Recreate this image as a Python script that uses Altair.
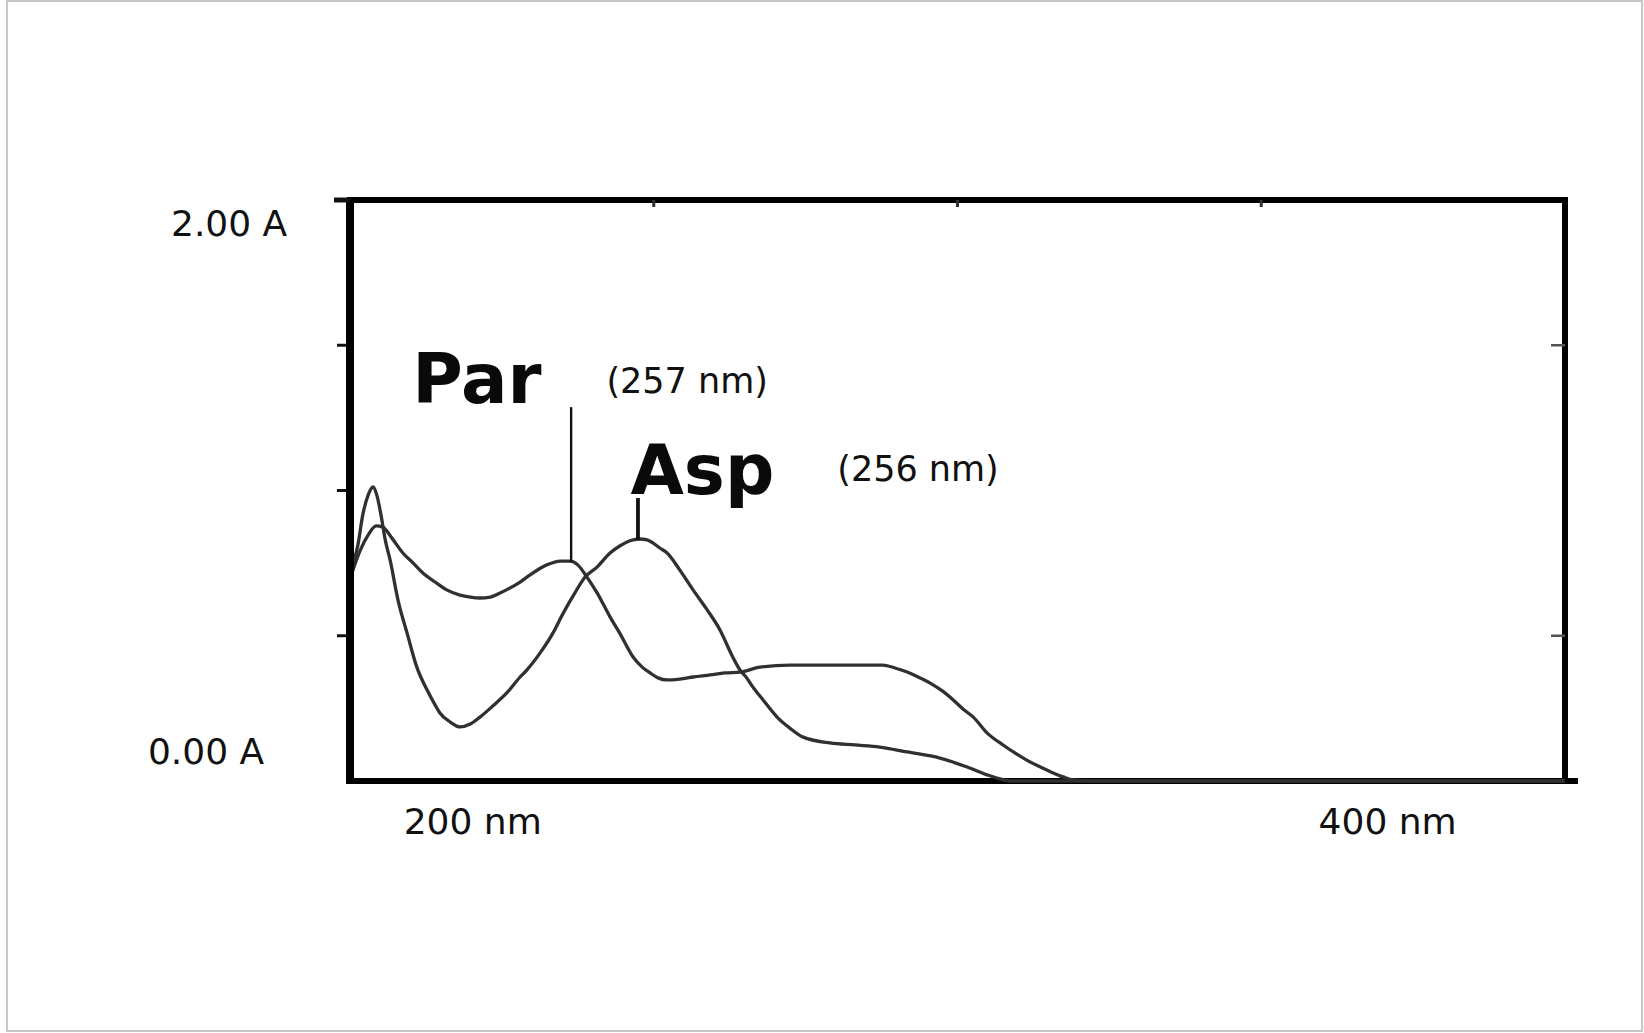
import altair as alt
import pandas as pd

# ---- spectra (wavelength nm, absorbance A) ----
par_nm = [200.2, 201.7, 203.0, 204.3, 205.4, 206.9, 208.7, 210.4, 212.0, 214.0,
          216.0, 218.1, 219.8, 221.4, 223.1, 224.7, 226.3, 228.0, 229.6, 232.4,
          234.6, 236.2, 237.5, 239.0, 240.7, 242.8, 244.4, 246.6, 248.1, 249.4,
          250.7, 252.2, 254.3, 256.5, 259.3, 261.7, 264.2, 267.5, 272.4, 277.4,
          282.3, 287.7, 289.7, 291.7, 293.5, 295.5, 297.5, 299.3, 300.9, 302.6,
          304.9, 307.5, 309.5, 311.4, 314.7, 317.4, 319.3, 323.5, 400.0]
par_abs = [0.709, 0.795, 0.847, 0.878, 0.874, 0.836, 0.785, 0.750, 0.716, 0.685,
           0.657, 0.640, 0.633, 0.630, 0.633, 0.647, 0.664, 0.685, 0.709, 0.744,
           0.757, 0.757, 0.744, 0.702, 0.647, 0.565, 0.509, 0.427, 0.392, 0.372,
           0.355, 0.348, 0.351, 0.358, 0.365, 0.372, 0.375, 0.392, 0.399, 0.399,
           0.399, 0.399, 0.389, 0.375, 0.358, 0.337, 0.310, 0.279, 0.248, 0.220,
           0.165, 0.124, 0.096, 0.072, 0.038, 0.014, 0.003, 0.0, 0.0]

asp_nm = [200.2, 201.3, 202.1, 203.0, 203.8, 204.4, 205.1, 205.8, 206.6, 207.9,
          209.4, 211.0, 212.7, 214.0, 214.8, 216.5, 218.1, 219.8, 221.4, 223.5,
          225.8, 228.0, 229.1, 231.3, 233.4, 235.1, 237.0, 238.7, 240.7, 242.8,
          244.4, 245.6, 246.6, 247.7, 248.9, 249.9, 251.0, 252.2, 254.3, 256.5,
          258.8, 260.9, 263.0, 264.2, 265.3, 266.3, 268.0, 270.3, 272.4, 274.6,
          279.0, 283.1, 287.2, 291.7, 297.1, 301.6, 304.9, 306.5, 308.6, 400.0]
asp_abs = [0.726, 0.812, 0.916, 0.985, 1.012, 0.985, 0.916, 0.830, 0.761, 0.623,
           0.509, 0.392, 0.313, 0.262, 0.234, 0.203, 0.186, 0.196, 0.220, 0.258,
           0.303, 0.358, 0.382, 0.441, 0.509, 0.578, 0.647, 0.702, 0.737, 0.785,
           0.809, 0.823, 0.830, 0.833, 0.830, 0.819, 0.802, 0.785, 0.726, 0.657,
           0.589, 0.520, 0.427, 0.382, 0.355, 0.324, 0.279, 0.220, 0.182, 0.151,
           0.131, 0.124, 0.117, 0.100, 0.079, 0.048, 0.021, 0.010, 0.0, 0.0]

# ---- peak marker lines ----
par_mark_nm = [236.4]
par_mark_top = [1.287]
par_mark_bot = [0.754]
asp_mark_nm = [247.4]
asp_mark_top = [0.974]
asp_mark_bot = [0.830]

# ---- annotation texts ----
name_text = ["Par", "Asp"]
name_nm = [220.9, 258.0]
name_abs = [1.301, 0.988]

note_text = ["(257 nm)", "(256 nm)"]
note_nm = [255.5, 293.5]
note_abs = [1.373, 1.071]

label_text = ["2.00 A", "0.00 A", "200 nm", "400 nm"]
label_nm = [180.1, 176.3, 220.2, 370.8]
label_abs = [1.914, 0.096, -0.145, -0.145]

# ---- frame ticks ----
left_ticks = [0.5, 1.0, 1.5]
right_ticks = [0.5, 1.5]
top_ticks = [250, 300, 350]

W, H = 1215, 581
xs = alt.Scale(domain=[200, 400], nice=False, zero=False)
ys = alt.Scale(domain=[0, 2], nice=False, zero=False)

spec = pd.concat([
    pd.DataFrame({"nm": par_nm, "A": par_abs, "s": "Par"}),
    pd.DataFrame({"nm": asp_nm, "A": asp_abs, "s": "Asp"}),
])

lines = alt.Chart(spec).mark_line(color="#303030", strokeWidth=3.3,
                                  interpolate="monotone").encode(
    x=alt.X("nm:Q", scale=xs, axis=None),
    y=alt.Y("A:Q", scale=ys, axis=None),
    detail="s:N",
)

par_mark = alt.Chart(pd.DataFrame({"nm": par_mark_nm, "t": par_mark_top, "b": par_mark_bot})).mark_rule(
    color="#111111", strokeWidth=2.4).encode(
    x=alt.X("nm:Q", scale=xs, axis=None),
    y=alt.Y("t:Q", scale=ys, axis=None), y2="b:Q")

asp_mark = alt.Chart(pd.DataFrame({"nm": asp_mark_nm, "t": asp_mark_top, "b": asp_mark_bot})).mark_rule(
    color="#111111", strokeWidth=3.8).encode(
    x=alt.X("nm:Q", scale=xs, axis=None),
    y=alt.Y("t:Q", scale=ys, axis=None), y2="b:Q")

names = alt.Chart(pd.DataFrame({"nm": name_nm, "A": name_abs, "t": name_text})).mark_text(
    font="DejaVu Sans", fontWeight="bold", fontSize=69, align="center",
    baseline="alphabetic", color="#0a0a0a").encode(
    x=alt.X("nm:Q", scale=xs, axis=None),
    y=alt.Y("A:Q", scale=ys, axis=None), text="t:N")

notes = alt.Chart(pd.DataFrame({"nm": note_nm, "A": note_abs, "t": note_text})).mark_text(
    font="DejaVu Sans", fontSize=35, align="center", baseline="middle",
    color="#111111").encode(
    x=alt.X("nm:Q", scale=xs, axis=None),
    y=alt.Y("A:Q", scale=ys, axis=None), text="t:N")

labels = alt.Chart(pd.DataFrame({"nm": label_nm, "A": label_abs, "t": label_text})).mark_text(
    font="DejaVu Sans", fontSize=36, align="center", baseline="middle",
    color="#111111").encode(
    x=alt.X("nm:Q", scale=xs, axis=None),
    y=alt.Y("A:Q", scale=ys, axis=None), text="t:N")

lt = alt.Chart(pd.DataFrame({"v": left_ticks})).mark_rule(color="#111111", strokeWidth=3).encode(
    y=alt.Y("v:Q", scale=ys, axis=None), x=alt.value(-13), x2=alt.value(0))
rt = alt.Chart(pd.DataFrame({"v": right_ticks})).mark_rule(color="#555555", strokeWidth=2.5).encode(
    y=alt.Y("v:Q", scale=ys, axis=None), x=alt.value(W - 14), x2=alt.value(W))
tt = alt.Chart(pd.DataFrame({"v": top_ticks})).mark_rule(color="#333333", strokeWidth=3).encode(
    x=alt.X("v:Q", scale=xs, axis=None), y=alt.value(0), y2=alt.value(7))

frame = pd.DataFrame({"k": [0]})
left_edge = alt.Chart(frame).mark_rule(color="#000000", strokeWidth=8).encode(
    x=alt.value(0), y=alt.value(-2), y2=alt.value(H + 3))
top_ext = alt.Chart(frame).mark_rule(color="#111111", strokeWidth=5).encode(
    x=alt.value(-16), x2=alt.value(0), y=alt.value(0))
bottom_ext = alt.Chart(frame).mark_rule(color="#000000", strokeWidth=6).encode(
    x=alt.value(W), x2=alt.value(W + 13), y=alt.value(H))

outer = alt.Chart(frame).mark_rect(
    filled=False, stroke="#c8c8c8", strokeWidth=2).encode(
    x=alt.value(-343), x2=alt.value(1292), y=alt.value(-199), y2=alt.value(831))

chart = alt.layer(outer, lines, par_mark, asp_mark, names, notes, labels, lt, rt, tt,
                  left_edge, top_ext, bottom_ext).properties(
    width=W, height=H,
    autosize=alt.AutoSizeParams(type="none"),
    padding={"left": 350, "top": 200, "right": 79, "bottom": 252},
    background="white",
).configure_view(stroke="black", strokeWidth=6)

chart.save("out.html", embed_options={"renderer": "svg", "actions": False})
